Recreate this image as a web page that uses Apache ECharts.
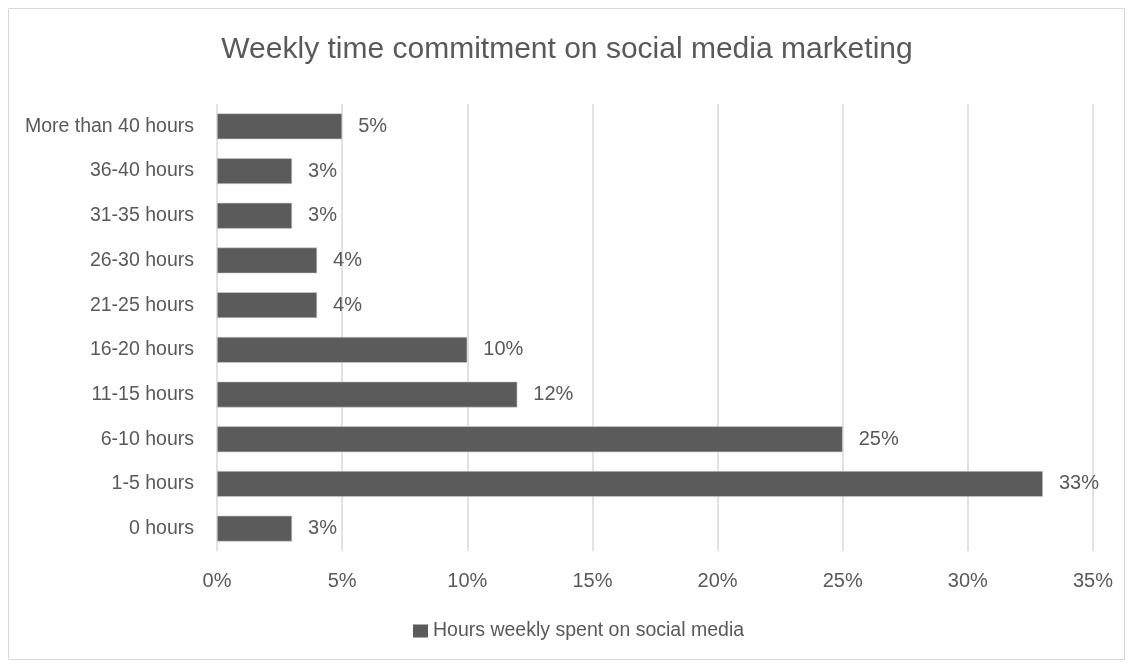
<!DOCTYPE html>
<html>
<head>
<meta charset="utf-8">
<script src="https://cdn.jsdelivr.net/npm/echarts@6/dist/echarts.min.js"></script>
<style>
  html, body { margin: 0; padding: 0; background: #ffffff; }
  #chart { width: 1134px; height: 664px; }
</style>
</head>
<body>
<div id="chart"></div>
<script>
// Weekly hours categories, bottom to top on the category axis
const categories = ['0 hours', '1-5 hours', '6-10 hours', '11-15 hours', '16-20 hours',
  '21-25 hours', '26-30 hours', '31-35 hours', '36-40 hours', 'More than 40 hours'];
// Share of respondents (percent)
const shares = [3, 33, 25, 12, 10, 4, 4, 3, 3, 5];
const seriesName = 'Hours weekly spent on social media';
const titleText = 'Weekly time commitment on social media marketing';

const FONT = '"Liberation Sans", Arial, sans-serif';
const TEXT = '#595959';
const BAR = '#5b5b5b';

const chart = echarts.init(document.getElementById('chart'), null, { renderer: 'canvas' });
chart.setOption({
  backgroundColor: '#ffffff',
  animation: false,
  graphic: [{
    type: 'rect',
    shape: { x: 8.5, y: 8.5, width: 1116, height: 651 },
    style: { fill: 'none', stroke: '#d9d9d9', lineWidth: 1 },
    silent: true
  }],
  title: {
    text: titleText,
    left: 'center',
    top: 30,
    textStyle: { fontFamily: FONT, fontSize: 30, fontWeight: 'normal', color: TEXT }
  },
  legend: {
    bottom: 18,
    left: 408,
    itemWidth: 15,
    itemHeight: 13,
    icon: 'rect',
    itemStyle: { color: BAR, borderWidth: 0 },
    textStyle: { fontFamily: FONT, fontSize: 19.5, color: TEXT },
    data: [seriesName]
  },
  grid: { left: 217, right: 41, top: 104, bottom: 113, containLabel: false },
  xAxis: {
    type: 'value',
    min: 0,
    max: 35,
    interval: 5,
    axisLine: { show: false },
    axisTick: { show: false },
    splitLine: { show: true, lineStyle: { color: '#d9d9d9', width: 1.5 } },
    axisLabel: {
      formatter: '{value}%',
      margin: 20,
      fontFamily: FONT, fontSize: 20, color: TEXT
    }
  },
  yAxis: {
    type: 'category',
    data: categories,
    axisLine: { show: false },
    axisTick: { show: false },
    axisLabel: { margin: 23, fontFamily: FONT, fontSize: 19.5, color: TEXT }
  },
  series: [{
    name: seriesName,
    type: 'bar',
    data: shares,
    barWidth: '58%',
    itemStyle: { color: BAR, borderColor: '#d0d0d0', borderWidth: 0.6 },
    label: {
      show: true,
      position: 'right',
      distance: 16,
      formatter: '{c}%',
      fontFamily: FONT, fontSize: 20, color: TEXT
    }
  }]
});
</script>
</body>
</html>
